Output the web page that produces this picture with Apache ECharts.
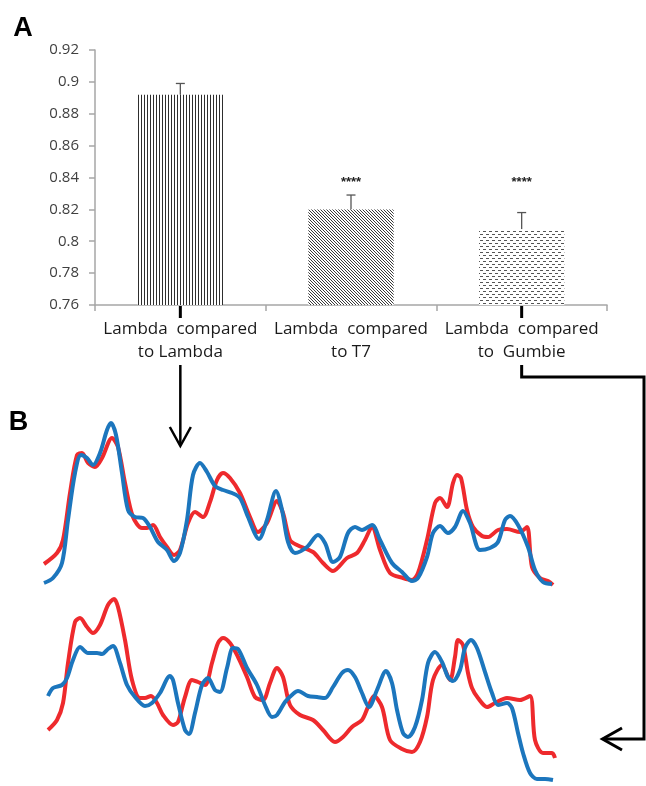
<!DOCTYPE html>
<html>
<head>
<meta charset="utf-8">
<script src="https://cdn.jsdelivr.net/npm/echarts@6/dist/echarts.min.js"></script>
<style>
html,body{margin:0;padding:0;background:#fff;}
#chart{width:646px;height:786px;}
</style>
</head>
<body>
<div id="chart"></div>
<script>
// ---------- Panel A data ----------
const categories = ['Lambda  compared\nto Lambda', 'Lambda  compared\nto T7', 'Lambda  compared\nto  Gumbie'];
const means = [0.892, 0.820, 0.8075];
const errTops = [0.899, 0.829, 0.818];
const sigMarks = ['', '****', '****'];
const sigLevel = 0.8375;
const yMin = 0.76, yMax = 0.92, yStep = 0.02;

// ---------- Panel B data: [position, signal] ----------
const topRed = [[4,26],[17,37],[23,50],[30,97],[37,135],[42,137],[48,127],[55,123],[62,132],[72,152],[78,143],[85,107],[93,73],[102,62],[107,62],[113,65],[120,53],[127,43],[134,35],[140,40],[148,67],[155,78],[163,73],[170,88],[177,110],[183,117],[190,112],[200,97],[210,73],[218,58],[227,67],[237,89],[243,77],[250,50],[257,45],[273,38],[283,27],[293,19],[307,32],[317,37],[325,50],[332,63],[340,40],[350,17],[363,12],[372,10],[378,17],[387,50],[395,87],[400,92],[407,83],[413,107],[417,115],[421,112],[427,80],[433,63],[442,54],[448,53],[458,60],[467,61],[480,58],[487,63],[492,23],[500,12],[508,9],[513,5]];
const topBlue = [[4,7],[13,12],[22,27],[28,70],[35,117],[41,135],[47,132],[53,125],[60,137],[67,160],[71,167],[76,155],[82,117],[88,80],[95,73],[103,72],[110,63],[118,48],[127,40],[134,29],[140,37],[147,70],[153,115],[160,127],[167,118],[175,104],[183,100],[192,97],[200,92],[208,73],[219,51],[227,70],[236,99],[242,80],[248,48],[255,37],[267,43],[278,55],[285,47],[293,28],[300,33],[308,57],[315,63],[322,60],[332,65],[340,50],[352,27],[362,18],[372,9],[378,12],[387,33],[393,57],[400,64],[408,57],[415,63],[423,79],[430,67],[440,40],[450,42],[458,48],[465,70],[470,74],[478,65],[488,43],[495,20],[503,8],[512,6]];
const botRed = [[8,55],[17,65],[23,82],[28,122],[35,163],[40,167],[47,158],[53,152],[60,160],[68,180],[74,186],[78,178],[85,145],[92,105],[100,87],[105,87],[111,89],[117,82],[123,70],[133,60],[138,63],[145,88],[152,105],[158,103],[165,100],[172,122],[178,142],[183,147],[190,142],[198,128],[207,108],[215,88],[223,85],[230,102],[237,117],[243,108],[250,80],[260,70],[273,65],[283,55],[295,43],[303,48],[312,58],[322,65],[328,78],[334,89],[342,78],[350,45],[362,36],[372,33],[380,43],[387,68],[393,105],[402,120],[410,105],[415,128],[418,145],[423,140],[428,112],[432,97],[438,87],[447,78],[455,82],[467,87],[480,85],[490,89],[495,45],[503,32],[512,32],[515,27]];
const botBlue = [[8,89],[13,97],[22,100],[27,107],[33,125],[40,138],[48,132],[57,132],[62,131],[68,136],[73,139],[80,122],[87,100],[95,88],[105,79],[112,82],[120,92],[130,109],[133,105],[138,82],[145,55],[149,51],[155,72],[162,100],[168,107],[175,95],[180,93],[187,117],[193,137],[198,136],[207,117],[217,100],[225,80],[232,68],[237,70],[245,83],[253,91],[258,94],[268,89],[277,88],[285,87],[293,98],[302,112],[308,115],[315,108],[322,92],[329,78],[337,95],[346,114],[352,102],[357,75],[363,52],[368,48],[375,58],[382,85],[388,122],[395,133],[402,123],[408,108],[413,104],[420,115],[425,137],[431,145],[437,137],[445,113],[452,92],[458,80],[467,82],[472,77],[478,52],[483,32],[490,12],[497,6],[505,6],[513,5]];

// ---------- patterns ----------
function makePattern(w, h, ink, draw) {
  const c = document.createElement('canvas');
  c.width = w; c.height = h;
  const g = c.getContext('2d');
  g.fillStyle = '#ffffff'; g.fillRect(0, 0, w, h);
  g.fillStyle = ink;
  draw(g);
  return { image: c, repeat: 'repeat' };
}
const patterns = [
  makePattern(3, 3, '#2e2e2e', g => { g.fillRect(0, 0, 1, 3); }),
  makePattern(3, 3, '#3a3a3a', g => { g.fillRect(0, 0, 1, 1); g.fillRect(1, 1, 1, 1); g.fillRect(2, 2, 1, 1); }),
  makePattern(6, 6, '#555555', g => { g.fillRect(0, 0, 3, 1); g.fillRect(3, 3, 3, 1); })
];

const chart = echarts.init(document.getElementById('chart'), null, { renderer: 'canvas' });

const hiddenAxis = (extra) => Object.assign({ type: 'value', show: false, axisLine: { show: false }, splitLine: { show: false } }, extra);

chart.setOption({
  backgroundColor: '#ffffff',
  animation: false,
  grid: [
    { left: 95, top: 50, width: 512, height: 255 },
    { left: 40, top: 410, width: 520, height: 180 },
    { left: 40, top: 590, width: 520, height: 195 }
  ],
  xAxis: [
    {
      type: 'category', gridIndex: 0, data: categories,
      axisLine: { lineStyle: { color: '#a6a6a6', width: 1.5 } },
      axisTick: { show: true, length: 6, lineStyle: { color: '#a6a6a6', width: 1.5 } },
      axisLabel: { interval: 0, margin: 13, fontFamily: 'Open Sans', fontSize: 17, lineHeight: 23, color: '#1a1a1a' }
    },
    hiddenAxis({ gridIndex: 1, min: 0, max: 520 }),
    hiddenAxis({ gridIndex: 2, min: 0, max: 520 })
  ],
  yAxis: [
    {
      type: 'value', gridIndex: 0, min: yMin, max: yMax, interval: yStep,
      axisLine: { show: true, lineStyle: { color: '#a6a6a6', width: 1.5 } },
      axisTick: { show: true, length: 6, lineStyle: { color: '#a6a6a6', width: 1.5 } },
      splitLine: { show: false },
      axisLabel: { margin: 16, fontFamily: 'Open Sans', fontSize: 15, color: '#404040',
        formatter: v => String(+v.toFixed(2)) }
    },
    hiddenAxis({ gridIndex: 1, min: 0, max: 180 }),
    hiddenAxis({ gridIndex: 2, min: 0, max: 195 })
  ],
  series: [
    {
      type: 'bar', xAxisIndex: 0, yAxisIndex: 0, barWidth: '50%',
      data: means.map((v, i) => ({ value: v, itemStyle: { color: patterns[i] } }))
    },
    {
      type: 'custom', xAxisIndex: 0, yAxisIndex: 0,
      data: means.map((m, i) => [i, m, errTops[i]]),
      encode: { x: 0, y: [1, 2] },
      renderItem: (params, api) => {
        const i = api.value(0);
        const p0 = api.coord([i, api.value(1)]);
        const p1 = api.coord([i, api.value(2)]);
        const st = { stroke: '#555', lineWidth: 1.3 };
        const kids = [
          { type: 'line', shape: { x1: p0[0], y1: p0[1], x2: p1[0], y2: p1[1] }, style: st },
          { type: 'line', shape: { x1: p1[0] - 4.5, y1: p1[1], x2: p1[0] + 4.5, y2: p1[1] }, style: st }
        ];
        if (sigMarks[i]) {
          const ps = api.coord([i, sigLevel]);
          kids.push({ type: 'text', style: { x: ps[0], y: ps[1] + 1, text: sigMarks[i], align: 'center', verticalAlign: 'middle',
            font: 'bold 13px "Liberation Sans"', fill: '#222' } });
        }
        return { type: 'group', children: kids };
      }
    },
    { type: 'line', xAxisIndex: 1, yAxisIndex: 1, data: topRed, showSymbol: false, smooth: 0.3,
      lineStyle: { color: '#ee2a2d', width: 4 }, itemStyle: { color: '#ee2a2d' } },
    { type: 'line', xAxisIndex: 1, yAxisIndex: 1, data: topBlue, showSymbol: false, smooth: 0.3,
      lineStyle: { color: '#1c76bd', width: 4 }, itemStyle: { color: '#1c76bd' } },
    { type: 'line', xAxisIndex: 2, yAxisIndex: 2, data: botRed, showSymbol: false, smooth: 0.3,
      lineStyle: { color: '#ee2a2d', width: 4 }, itemStyle: { color: '#ee2a2d' } },
    { type: 'line', xAxisIndex: 2, yAxisIndex: 2, data: botBlue, showSymbol: false, smooth: 0.3,
      lineStyle: { color: '#1c76bd', width: 4 }, itemStyle: { color: '#1c76bd' } }
  ]
});

// ---------- annotations: panel letters and arrows ----------
const base0 = chart.convertToPixel({ gridIndex: 0 }, [0, yMin]);
const base2 = chart.convertToPixel({ gridIndex: 0 }, [2, yMin]);
const x1 = base0[0], x3 = base2[0], ay = base0[1];
const ink = { stroke: '#000', lineWidth: 3, fill: null };
chart.setOption({
  graphic: [
    { type: 'text', style: { x: 23, y: 29, text: 'A', align: 'center', verticalAlign: 'middle', font: 'bold 27px "Liberation Sans"', fill: '#000' } },
    { type: 'text', style: { x: 18.5, y: 423, text: 'B', align: 'center', verticalAlign: 'middle', font: 'bold 27px "Liberation Sans"', fill: '#000' } },
    { type: 'polyline', shape: { points: [[x1, ay + 1], [x1, ay + 13]] }, style: ink },
    { type: 'polyline', shape: { points: [[x1, 365], [x1, 445]] }, style: { stroke: '#000', lineWidth: 2.5, fill: null } },
    { type: 'polyline', shape: { points: [[x1 - 10.5, 427], [x1, 446], [x1 + 10.5, 427]] }, style: { stroke: '#000', lineWidth: 2.5, fill: null } },
    { type: 'polyline', shape: { points: [[x3, ay + 1], [x3, ay + 13]] }, style: ink },
    { type: 'polyline', shape: { points: [[x3, 365], [x3, 377], [644, 377], [644, 739], [603, 739]] }, style: ink },
    { type: 'polyline', shape: { points: [[622, 728], [602.5, 739], [622, 750]] }, style: ink }
  ]
});
</script>
</body>
</html>
